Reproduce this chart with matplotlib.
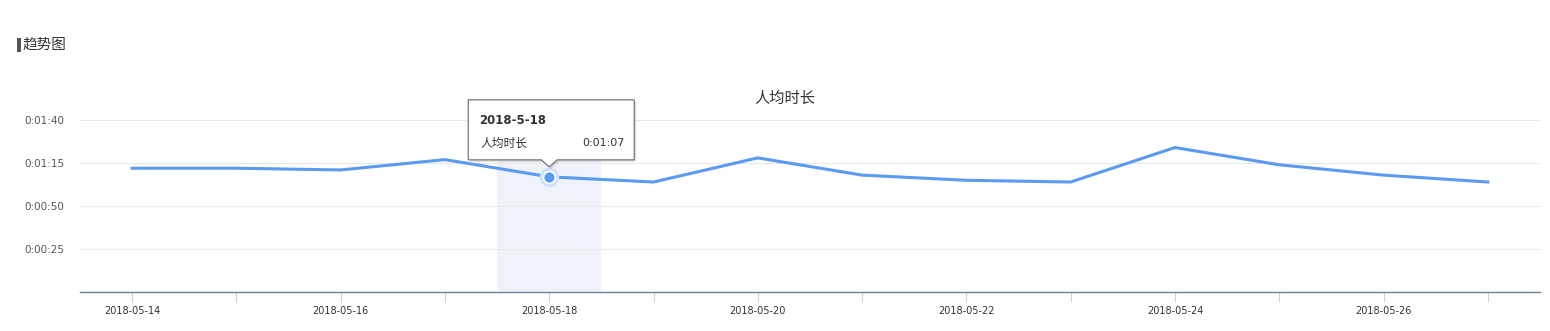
import matplotlib
matplotlib.use("Agg")
import matplotlib.pyplot as plt
from matplotlib.patches import Polygon, Rectangle
from matplotlib.ticker import FuncFormatter, FixedLocator

plt.rcParams["font.family"] = ["Noto Sans CJK SC", "DejaVu Sans"]

# data: average session length per day, in seconds
dates = ["2018-05-14", "2018-05-15", "2018-05-16", "2018-05-17", "2018-05-18",
         "2018-05-19", "2018-05-20", "2018-05-21", "2018-05-22", "2018-05-23",
         "2018-05-24", "2018-05-25", "2018-05-26", "2018-05-27"]
seconds = [72, 72, 71, 77, 67, 64, 78, 68, 65, 64, 84, 74, 68, 64]
yticks = [25, 50, 75, 100]
hover_idx = 4
hover_label = "2018-5-18"
series_name = "人均时长"

LINE = "#5a9af0"


def hms(v, pos=None):
    v = int(round(v))
    return f"{v // 3600}:{(v % 3600) // 60:02d}:{v % 60:02d}"


fig = plt.figure(figsize=(15.5, 3.31), dpi=100)
ax = fig.add_axes([0.0516, 0.117, 0.9419, 0.5205])
x = list(range(len(dates)))

ax.set_xlim(-0.5, len(dates) - 0.5)
ax.set_ylim(0, 100)

# hover band
ax.axvspan(hover_idx - 0.5, hover_idx + 0.5, color="#eff3f9", zorder=0, lw=0)

ax.plot(x, seconds, color=LINE, lw=2.2, zorder=3, solid_joinstyle="miter")
ax.plot(x[hover_idx], seconds[hover_idx], "o", ms=13, color="#cfe0fa", zorder=4)
ax.plot(x[hover_idx], seconds[hover_idx], "o", ms=8.5, color=LINE,
        mec="white", mew=1.2, zorder=5)

# axes styling
for s in ["top", "right", "left"]:
    ax.spines[s].set_visible(False)
ax.spines["bottom"].set_color("#6e7f99")
ax.spines["bottom"].set_linewidth(1.0)

ax.yaxis.set_major_locator(FixedLocator(yticks))
ax.yaxis.set_major_formatter(FuncFormatter(hms))
ax.tick_params(axis="y", length=0, labelsize=7.5, labelcolor="#555555", pad=11)
ax.grid(axis="y", color="#e8e8e8", lw=0.8)
ax.set_axisbelow(True)
for lab in ax.get_yticklabels():
    lab.set_family("DejaVu Sans")

ax.set_xticks(x)
ax.set_xticklabels([d if i % 2 == 0 else "" for i, d in enumerate(dates)],
                   family="DejaVu Sans")
ax.tick_params(axis="x", length=7, width=0.8, color="#c9d5ea",
               labelsize=7, labelcolor="#333333", pad=3)

ax.set_title(series_name, fontsize=11, color="#333333", pad=12, x=0.483)

# tooltip anchored at hovered point (offsets in pixels)
fig.canvas.draw()
px, py = ax.transData.transform((x[hover_idx], seconds[hover_idx]))
shape = [(-81, 77), (85, 77), (85, 17), (8, 17), (0, 10), (-8, 17), (-81, 17)]
shadow = Polygon([(px + a + 2, py + b - 2) for a, b in shape], closed=True,
                 transform=None, facecolor="#000000", alpha=0.12, lw=0,
                 zorder=9, clip_on=False)
box = Polygon([(px + a, py + b) for a, b in shape], closed=True,
              transform=None, facecolor="white", edgecolor="#777777", lw=0.9,
              zorder=10, clip_on=False)
fig.add_artist(shadow)
fig.add_artist(box)
fig.text(px - 70, py + 56, hover_label, transform=None, fontsize=8.5,
         fontweight="bold", color="#333333", va="center", ha="left",
         family="DejaVu Sans", zorder=11)
fig.text(px - 69, py + 34, series_name, transform=None, fontsize=8.5,
         color="#333333", va="center", ha="left", zorder=11)
fig.text(px + 75, py + 34, hms(seconds[hover_idx]), transform=None, fontsize=8,
         color="#333333", va="center", ha="right", family="DejaVu Sans",
         zorder=11)

# section header
fig.add_artist(Rectangle((17 / 1550, 1 - 52 / 331), 3.5 / 1550, 14 / 331,
                         transform=fig.transFigure, color="#555555", lw=0))
fig.text(22.5 / 1550, 1 - 45 / 331, "趋势图", fontsize=10.5, color="#333333",
         va="center", ha="left")

fig.savefig("out.png", dpi=100)
